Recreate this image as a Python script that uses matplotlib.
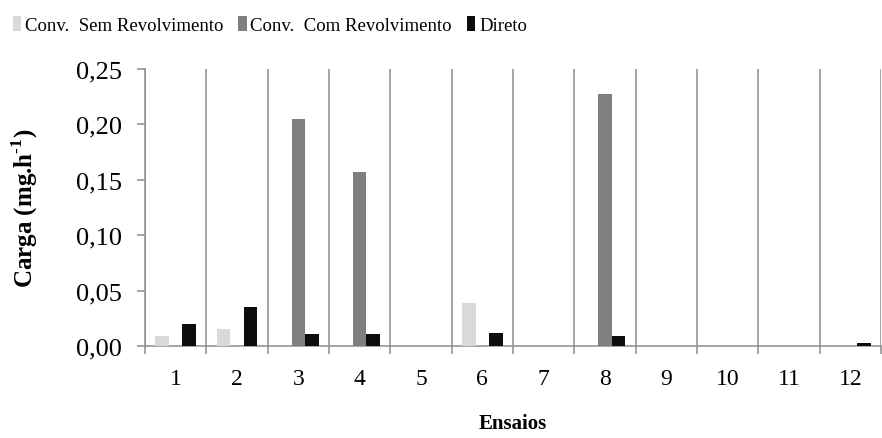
import numpy as np
import matplotlib
matplotlib.use("Agg")
from matplotlib import pyplot as plt

# data
ensaios = ["1", "2", "3", "4", "5", "6", "7", "8", "9", "10", "11", "12"]
sem_revolv = [0.009, 0.015, 0, 0, 0, 0.039, 0, 0, 0, 0, 0, 0]
com_revolv = [0, 0, 0.205, 0.157, 0, 0, 0, 0.227, 0, 0, 0, 0]
direto = [0.020, 0.035, 0.011, 0.011, 0, 0.012, 0, 0.009, 0, 0, 0, 0.003]
series_names = ["Conv.  Sem Revolvimento", "Conv.  Com Revolvimento", "Direto"]
yticks = [0.00, 0.05, 0.10, 0.15, 0.20, 0.25]

colors = ["#d9d9d9", "#7f7f7f", "#0d0d0d"]
line_col = "#8c8c8c"

plt.rcParams["font.family"] = ["Liberation Serif", "DejaVu Serif"]
plt.rcParams["mathtext.fontset"] = "custom"
plt.rcParams["mathtext.rm"] = "Liberation Serif:bold"
plt.rcParams["mathtext.bf"] = "Liberation Serif:bold"

fig = plt.figure(figsize=(8.82, 4.39), dpi=100)
ax = fig.add_axes([0.1644, 0.2096, 0.8345, 0.631])

x = np.arange(1, len(ensaios) + 1)
w = 0.22
for i, (vals, name) in enumerate(zip([sem_revolv, com_revolv, direto], series_names)):
    ax.bar(x + (i - 1) * w, vals, width=w, color=colors[i], label=name, zorder=3)

ax.set_xlim(0.5, len(ensaios) + 0.5)
ax.set_ylim(0, 0.25)
ax.set_yticks(yticks)
ax.set_yticklabels([f"{v:.2f}".replace(".", ",") for v in yticks], fontsize=19)

# category boundaries as major ticks + gridlines, labels on minor ticks
ax.set_xticks(np.arange(0.5, len(ensaios) + 1, 1.0))
ax.set_xticklabels([])
ax.set_xticks(x, minor=True)
ax.set_xticklabels(ensaios, minor=True, fontsize=17)
ax.tick_params(axis="x", which="major", length=6, width=1.1, color=line_col)
ax.tick_params(axis="x", which="minor", length=0, pad=16)
ax.tick_params(axis="y", length=5.8, width=1.1, color=line_col, pad=11)
ax.grid(axis="x", which="major", color=line_col, linewidth=1.1, zorder=0)

for s in ["top", "right"]:
    ax.spines[s].set_visible(False)
for s in ["left", "bottom"]:
    ax.spines[s].set_color(line_col)
    ax.spines[s].set_linewidth(1.1)

ax.set_ylabel("Carga (mg.h$^{\\text{-1}}$)", fontsize=18, fontweight="bold", labelpad=26)
ax.set_xlabel("Ensaios", fontsize=15, fontweight="bold", labelpad=17)

fig.legend(loc="center", bbox_to_anchor=(0.306, 0.940), ncol=3, frameon=False,
           fontsize=13.5, handlelength=0.45, handleheight=0.8, handletextpad=0.2,
           columnspacing=0.8, borderaxespad=0)

fig.savefig("out.png", dpi=100)
